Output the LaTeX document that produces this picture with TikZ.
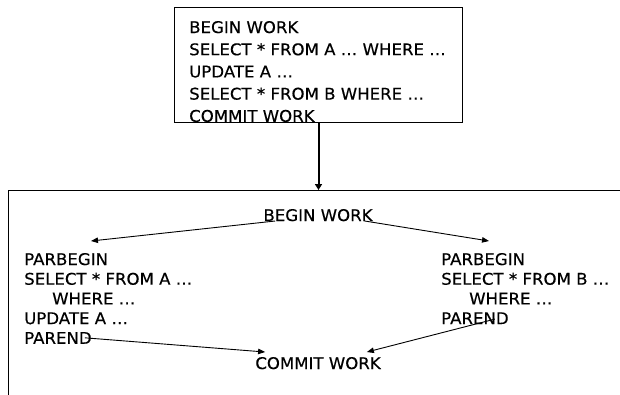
\documentclass[tikz,border=0pt]{standalone}
\usepackage{fontspec}
\setmainfont[FakeStretch=1.03,FakeBold=0.4]{DejaVu Sans}
\usetikzlibrary{arrows.meta,calc}

\begin{document}
\begin{tikzpicture}[x=1bp,y=-1bp,
  txt/.style={inner sep=0pt, anchor=base west, font=\fontsize{16.1bp}{19bp}\selectfont},
  conn/.style={line width=0.9bp, -{Triangle[length=7bp,width=5.5bp]}},
  frame/.style={draw, line width=1bp, inner sep=0pt}]
\useasboundingbox (0,0) rectangle (620,394);
\fill[white] (0,0) rectangle (620,394);

% serial transaction
\node[frame, anchor=north west, minimum width=288bp, minimum height=115bp] (src) at (174,7) {};
\node[txt] (s1) at (189,33.0)  {BEGIN WORK};
\node[txt] (s2) at (189,55.2)  {SELECT * FROM A … WHERE …};
\node[txt] (s3) at (189,77.4)  {UPDATE A …};
\node[txt] (s4) at (189,99.6)  {SELECT * FROM B WHERE …};
\node[txt] (s5) at (189,121.8) {COMMIT WORK};

% parallelised transaction (frame runs past the page edge)
\node[frame, anchor=north west, minimum width=640bp, minimum height=230bp] (par) at (8,190) {};
\draw[line width=2bp, -{Triangle[length=6bp,width=7bp]}] (src.south) -- (src.south |- par.north);

\node[txt, anchor=base] (bw) at (318,221) {BEGIN WORK};

\node[txt] (la1) at (24,265.0) {PARBEGIN};
\node[txt] (la2) at (24,284.7) {SELECT * FROM A …};
\node[txt] (la3) at (52,304.4) {WHERE …};
\node[txt] (la4) at (24,324.1) {UPDATE A …};
\node[txt] (la5) at (24,343.8) {PAREND};

\node[txt] (ra1) at (441,265.0) {PARBEGIN};
\node[txt] (ra2) at (441,284.7) {SELECT * FROM B …};
\node[txt] (ra3) at (469,304.4) {WHERE …};
\node[txt] (ra4) at (441,324.1) {PAREND};

\node[txt, anchor=base] (cw) at (318,369) {COMMIT WORK};

% fork and join
\draw[conn] ($(bw.base west)+(12,0)$) -- ($(la1.base west)+(67,-24)$);
\draw[conn] ($(bw.base east)+(-8,0)$) -- ($(ra1.base west)+(48,-24)$);
\draw[conn] ($(la5.base east)+(-7,-6)$) -- ($(cw.base west)+(10,-17)$);
\draw[conn] ($(ra4.base east)+(-14,-5)$) -- ($(cw.base east)+(-14,-17)$);
\end{tikzpicture}
\end{document}
